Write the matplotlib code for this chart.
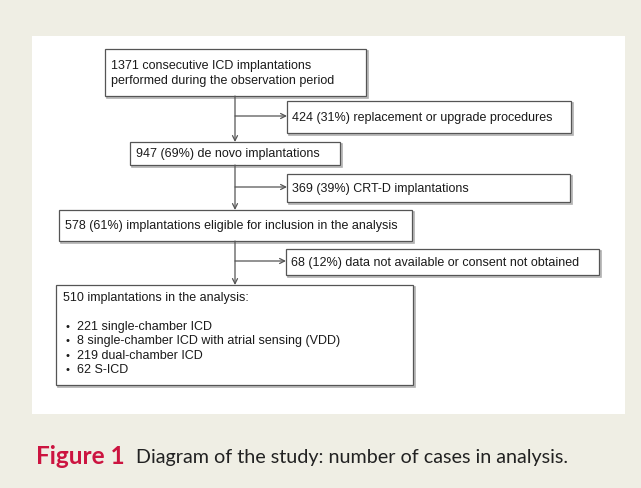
import matplotlib
matplotlib.use("Agg")
import matplotlib.pyplot as plt
from matplotlib.patches import Rectangle

# ---- data ----
main_texts = [
    "1371 consecutive ICD implantations\nperformed during the observation period",
    "947 (69%) de novo implantations",
    "578 (61%) implantations eligible for inclusion in the analysis",
    "510 implantations in the analysis:",
]
side_texts = [
    "424 (31%) replacement or upgrade procedures",
    "369 (39%) CRT-D implantations",
    "68 (12%) data not available or consent not obtained",
]
final_items = [
    "221 single-chamber ICD",
    "8 single-chamber ICD with atrial sensing (VDD)",
    "219 dual-chamber ICD",
    "62 S-ICD",
]
caption_label = "Figure 1"
caption_text = "Diagram of the study: number of cases in analysis."

# ---- layout (pixels) ----
main_boxes = [(105, 50, 366, 97), (130, 143, 340, 166), (59, 211, 412, 242), (56, 286, 413, 386)]
side_boxes = [(287, 102, 571, 134), (287, 175, 570, 203), (286, 250, 599, 276)]
trunk_x = 235
branch_y = [117, 188, 262]

BG = "#efeee4"
EDGE = "#555555"
SHADOW = "#b0b0b0"
TXT = "#1a1a1a"
FS = 9.0
FONT = "Liberation Sans"

fig = plt.figure(figsize=(6.41, 4.89), dpi=100)
fig.patch.set_facecolor(BG)
ax = fig.add_axes([0, 0, 1, 1])
ax.set_xlim(0, 641)
ax.set_ylim(489, 0)
ax.axis("off")

ax.add_patch(Rectangle((32, 37), 625 - 32, 415 - 37, facecolor="white", edgecolor="none", zorder=0))

def box(b):
    x0, y0, x1, y1 = b
    ax.add_patch(Rectangle((x0 + 1.5, y0 + 1.5), x1 - x0, y1 - y0, facecolor="none",
                           edgecolor=SHADOW, lw=1.2, zorder=1))
    ax.add_patch(Rectangle((x0, y0), x1 - x0, y1 - y0, facecolor="white",
                           edgecolor=EDGE, lw=0.9, zorder=2))

for b in main_boxes + side_boxes:
    box(b)

for b, t in zip(main_boxes[:3], main_texts[:3]):
    x0, y0, x1, y1 = b
    ax.text(x0 + 6, (y0 + y1) / 2, t, ha="left", va="center", fontsize=FS,
            family=FONT, color=TXT, linespacing=1.25, zorder=3)
x0, y0, x1, y1 = main_boxes[3]
ax.text(x0 + 7, y0 + 12, main_texts[3], ha="left", va="center", fontsize=FS,
        family=FONT, color=TXT, zorder=3)
for j, item in enumerate(final_items):
    yy = y0 + 41 + j * 14.3
    ax.text(x0 + 9, yy, "\u2022", ha="left", va="center", fontsize=FS - 1,
            family=FONT, color=TXT, zorder=3)
    ax.text(x0 + 21, yy, item, ha="left", va="center", fontsize=FS,
            family=FONT, color=TXT, zorder=3)

for b, t in zip(side_boxes, side_texts):
    x0, y0, x1, y1 = b
    ax.text(x0 + 5, (y0 + y1) / 2, t, ha="left", va="center", fontsize=FS,
            family=FONT, color=TXT, zorder=3)

# arrows
for k in range(3):
    top = main_boxes[k][3]
    bottom = main_boxes[k + 1][1]
    ax.annotate("", xy=(trunk_x, bottom), xytext=(trunk_x, top),
                arrowprops=dict(arrowstyle="->", color=EDGE, lw=0.9,
                                shrinkA=0, shrinkB=0, mutation_scale=9), zorder=2)
    ax.annotate("", xy=(side_boxes[k][0], branch_y[k]), xytext=(trunk_x, branch_y[k]),
                arrowprops=dict(arrowstyle="->", color=EDGE, lw=0.9,
                                shrinkA=0, shrinkB=0, mutation_scale=9), zorder=2)

# caption
t1 = ax.text(36, 457, caption_label, ha="left", va="center", fontsize=17.5,
             family="Lato", weight="bold", color="#cc1440")
fig.canvas.draw()
bb = t1.get_window_extent()
xd, _ = ax.transData.inverted().transform((bb.x1, 0))
ax.text(xd + 11, 457, caption_text, ha="left", va="center", fontsize=14.2,
        family="Lato", color="#222222")

fig.savefig("out.png", dpi=100, facecolor=BG)
